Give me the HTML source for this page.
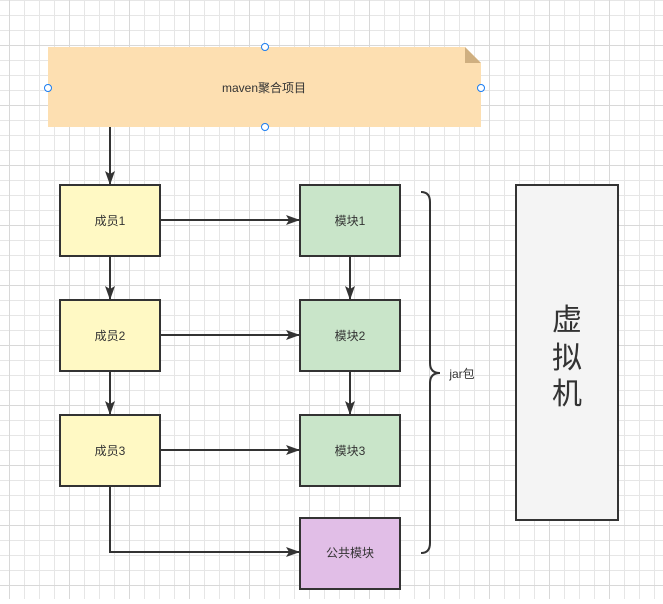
<!DOCTYPE html>
<html><head><meta charset="utf-8"><style>
body{margin:0;width:663px;height:599px;overflow:hidden;background:#fff;}
</style></head><body>
<svg width="663" height="599" xmlns="http://www.w3.org/2000/svg" font-family="Liberation Sans, Noto Sans CJK SC, sans-serif">
<defs>
<pattern id="g" width="15" height="15" patternUnits="userSpaceOnUse" x="9" y="0"><path d="M0 0.5H15M0.5 0V15" stroke="#e6e6e6" stroke-width="1" fill="none"/></pattern>
<pattern id="G" width="60" height="60" patternUnits="userSpaceOnUse" x="9" y="45"><path d="M0 0.5H60M0.5 0V60" stroke="#d8d8d8" stroke-width="1" fill="none"/></pattern>
<marker id="a" markerWidth="14" markerHeight="12" refX="13" refY="6" orient="auto" markerUnits="userSpaceOnUse"><path d="M0 1L14 6L0 11L3 6Z" fill="#333"/></marker>
</defs>
<rect width="663" height="599" fill="url(#g)"/>
<rect width="663" height="599" fill="url(#G)"/>
<path d="M48 47H465L481 63V127H48Z" fill="#fddfb1"/>
<path d="M465 47L481 63H465Z" fill="#cfaf80"/>
<text x="264" y="92" font-size="12" text-anchor="middle" fill="#333">maven聚合项目</text>
<g fill="#fff" stroke="#1a7cf0" stroke-width="1"><circle cx="265" cy="47" r="3.5"/><circle cx="265" cy="127" r="3.5"/><circle cx="48" cy="88" r="3.5"/><circle cx="481" cy="88" r="3.5"/></g>
<g stroke="#333" stroke-width="2" fill="none" marker-end="url(#a)">
<path d="M110 127V184"/><path d="M110 256V299"/><path d="M110 371V414"/>
<path d="M160 220H299"/><path d="M160 335H299"/><path d="M160 450H299"/>
<path d="M110 486V552H299"/>
<path d="M350 256V299"/><path d="M350 371V414"/>
</g>
<g stroke="#333" stroke-width="2" font-size="12" text-anchor="middle">
<rect x="60" y="185" width="100" height="71" fill="#fff9c4"/>
<rect x="60" y="300" width="100" height="71" fill="#fff9c4"/>
<rect x="60" y="415" width="100" height="71" fill="#fff9c4"/>
<rect x="300" y="185" width="100" height="71" fill="#c9e5c9"/>
<rect x="300" y="300" width="100" height="71" fill="#c9e5c9"/>
<rect x="300" y="415" width="100" height="71" fill="#c9e5c9"/>
<rect x="300" y="518" width="100" height="71" fill="#e1bee7"/>
<rect x="516" y="185" width="102" height="335" fill="#f4f4f4"/>
</g>
<g font-size="12" fill="#333" text-anchor="middle">
<text x="110" y="225">成员1</text><text x="110" y="340">成员2</text><text x="110" y="455">成员3</text>
<text x="350" y="225">模块1</text><text x="350" y="340">模块2</text><text x="350" y="455">模块3</text><text x="350" y="557">公共模块</text>
<text x="462" y="378">jar包</text>
</g>
<path d="M421 192Q430 192 430 202V363Q430 373 440 373Q430 373 430 383V543Q430 553 421 553" stroke="#333" stroke-width="2" fill="none"/>
<g font-size="30" fill="#333" text-anchor="middle"><text x="567" y="330">虚</text><text x="567" y="368">拟</text><text x="567" y="404">机</text></g>
</svg>
</body></html>
